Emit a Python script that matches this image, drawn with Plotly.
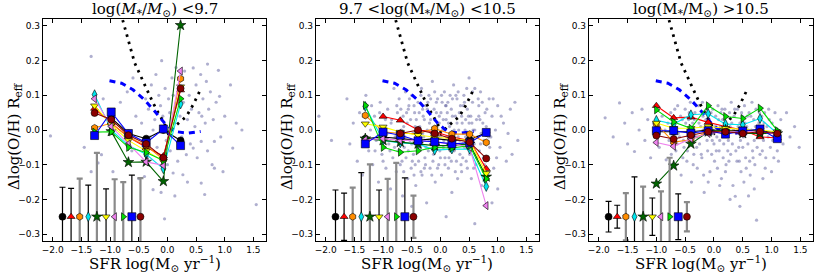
import plotly.graph_objects as go

# ---------------- data ----------------
SERIES_COLORS = ['#000000', '#ff0000', '#ff8c00', '#00e5ee', '#006400',
                 '#ffff00', '#ee82ee', '#00dd00', '#0000ff', '#8b0000']
SERIES_SYMBOLS = ['circle', 'triangle-up', 'hexagon', 'diamond-tall', 'star',
                  'triangle-down', 'triangle-left', 'triangle-right', 'square', 'circle']

TITLES = ['log(<i>M</i><sub>*</sub>/<i>M</i><sub>⊙</sub>) <9.7',
          '9.7 <log(M<sub>*</sub>/M<sub>⊙</sub>) <10.5',
          'log(M<sub>*</sub>/M<sub>⊙</sub>) >10.5']

# panel 1 : log M < 9.7
p1_x = [-1.27, -0.98, -0.68, -0.37, -0.07, 0.23]
p1_black = [None, 0.035, -0.01, -0.025, 0.0, -0.03]
p1_red = [0.062, 0.02, -0.02, -0.05, -0.075, 0.115]
p1_orange = [0.006, 0.02, -0.02, -0.045, -0.085, 0.148]
p1_cyan = [0.102, 0.0, -0.045, -0.07, -0.112, 0.075]
p1_dgreen = [None, -0.004, -0.093, -0.092, -0.148, 0.302]
p1_yellow = [0.07, 0.015, -0.03, -0.06, -0.09, 0.125]
p1_violet = [0.09, 0.01, -0.04, -0.092, -0.102, 0.17]
p1_green = [-0.006, -0.005, -0.05, -0.065, -0.088, 0.09]
p1_blue = [-0.016, 0.052, -0.01, -0.037, 0.003, -0.045]
p1_darkred = [0.049, 0.03, -0.015, -0.04, -0.08, 0.12]

# panel 2 : 9.7 < log M < 10.5
p2_x = [-1.31, -1.0, -0.70, -0.39, -0.10, 0.20, 0.51, 0.80]
p2_black = [-0.025, -0.02, -0.025, -0.03, -0.025, -0.03, -0.028, -0.008]
p2_red = [None, 0.039, 0.028, 0.0, -0.005, -0.02, -0.03, -0.112]
p2_orange = [0.042, -0.005, -0.01, -0.01, 0.004, -0.012, -0.012, -0.036]
p2_cyan = [0.068, -0.03, -0.037, -0.04, -0.058, -0.055, -0.055, -0.163]
p2_dgreen = [-0.025, -0.03, -0.035, -0.04, -0.045, -0.045, -0.04, -0.135]
p2_yellow = [0.018, 0.009, -0.006, -0.015, -0.02, -0.025, -0.03, -0.125]
p2_violet = [-0.028, -0.025, -0.03, -0.03, -0.035, -0.04, -0.05, -0.218]
p2_green = [0.071, -0.05, -0.064, -0.06, -0.05, -0.052, -0.045, -0.141]
p2_blue = [-0.04, -0.006, -0.015, -0.031, -0.034, -0.04, -0.037, -0.007]
p2_darkred = [None, None, -0.01, 0.0, -0.01, -0.025, -0.035, -0.082]

# panel 3 : log M > 10.5
p3_x = [-1.0, -0.7, -0.4, -0.1, 0.2, 0.5, 0.8, 1.1]
p3_black = [-0.005, -0.005, -0.005, 0.0, 0.0, 0.0, -0.002, -0.008]
p3_red = [0.07, 0.035, 0.037, 0.022, 0.01, 0.0, -0.02, -0.023]
p3_orange = [0.018, -0.035, -0.028, -0.005, -0.002, -0.005, -0.01, -0.01]
p3_cyan = [0.028, 0.017, 0.044, 0.047, 0.017, 0.015, 0.033, -0.01]
p3_dgreen = [-0.155, -0.103, -0.04, -0.005, 0.0, -0.01, -0.01, -0.01]
p3_yellow = [0.02, 0.005, 0.005, 0.01, 0.005, 0.003, 0.0, -0.005]
p3_violet = [-0.036, -0.047, -0.025, -0.01, -0.005, -0.005, -0.005, -0.012]
p3_green = [0.058, 0.023, 0.005, 0.07, 0.039, 0.033, 0.063, -0.002]
p3_blue = [-0.002, -0.002, -0.009, -0.002, -0.012, -0.003, 0.003, -0.025]
p3_darkred = [-0.016, -0.026, -0.015, -0.005, -0.005, -0.01, -0.005, -0.01]

# typical error bars (drawn at y = -0.25)
err_x = [-1.83, -1.68, -1.53, -1.38, -1.23, -1.07, -0.92, -0.77, -0.62, -0.47]
err_y = -0.25
err_p1 = [0.085, 0.082, 0.11, 0.091, 0.184, 0.08, 0.108, 0.10, 0.12, 0.111]
err_p2 = [0.077, 0.068, 0.084, 0.127, 0.151, 0.077, 0.109, 0.155, 0.112, 0.061]
err_p3 = [0.044, 0.033, 0.068, 0.115, 0.087, 0.054, 0.073, 0.17, 0.066, 0.042]
ERR_COLORS = ['black', 'black', 'gray', 'black', 'gray', 'black', 'gray', 'gray', 'black', 'gray']

# model curves
dot_x = [-0.78, -0.72, -0.66, -0.62, -0.57, -0.51, -0.46, -0.40, -0.34, -0.25, -0.16,
         -0.05, 0.01, 0.16, 0.33, 0.45, 0.59]
dot_y = [0.317, 0.279, 0.246, 0.222, 0.193, 0.171, 0.153, 0.131, 0.111, 0.078, 0.05,
         0.018, -0.009, 0.015, 0.039, 0.073, 0.121]
dash_x = [-1.01, -0.8, -0.6, -0.4, -0.22, -0.05, 0.12, 0.35, 0.58]
dash_y = [0.142, 0.135, 0.116, 0.087, 0.054, 0.02, -0.004, -0.009, -0.004]

# individual galaxies
scatter1 = [
    (-2.04, -0.017), (-1.33, 0.212), (-1.21, -0.095), (-1.15, -0.071), (-1.33, -0.12), (-1.45, -0.05),
    (-1.12, 0.09), (-0.95, -0.12), (-0.82, 0.08), (-0.7, 0.11), (-0.62, -0.06), (-0.55, 0.04),
    (-0.5, -0.14), (-0.45, 0.02), (-0.4, -0.134), (-0.38, 0.09), (-0.33, 0.06), (-0.3, -0.02),
    (-0.28, 0.13), (-0.25, -0.172), (-0.22, 0.03), (-0.2, 0.16), (-0.18, -0.05), (-0.15, 0.1),
    (-0.12, 0.07), (-0.11, -0.18), (-0.08, 0.04), (-0.05, -0.256), (-0.04, 0.12), (-0.02, -0.03),
    (0.02, 0.09), (0.04, 0.05), (0.05, -0.06), (0.08, 0.15), (0.1, -0.124), (0.12, 0.02),
    (0.13, -0.19), (0.15, 0.07), (0.18, -0.09), (0.2, 0.11), (0.22, 0.04), (0.25, -0.02),
    (0.27, -0.129), (0.28, 0.08), (0.3, 0.17), (0.33, -0.071), (0.35, 0.03), (0.38, 0.1),
    (0.4, -0.04), (0.42, 0.06), (0.45, 0.179), (0.45, -0.052), (0.48, 0.01), (0.5, 0.13),
    (0.52, -0.08), (0.55, 0.05), (0.58, 0.16), (0.59, -0.033), (0.59, -0.153), (0.62, 0.09),
    (0.65, -0.186), (0.66, 0.02), (0.68, 0.14), (0.7, -0.06), (0.72, 0.06), (0.75, 0.11),
    (0.78, -0.1), (0.8, 0.03), (0.82, -0.033), (0.82, -0.11), (0.85, 0.08), (0.89, 0.172),
    (0.91, 0.097), (0.93, -0.02), (0.97, -0.12), (1.0, 0.04), (1.1, 0.13), (1.14, -0.052),
    (1.2, 0.02), (1.3, 0.0), (1.55, -0.215), (0.35, -0.15), (0.0, -0.1), (-0.35, -0.08),
    (0.6, 0.04), (0.15, 0.18), (-0.1, 0.2), (0.7, 0.19), (-0.6, 0.15), (0.1, 0.1), (-0.25, 0.0),
]
scatter2 = [
    (-2.12, 0.04), (-1.63, 0.09), (-1.9, -0.03), (0.6, -0.27), (0.1, -0.25), (0.9, -0.21),
    (-0.5, -0.22), (1.0, -0.17),
    (-1.58, -0.04), (-1.52, 0.02), (-1.45, -0.09), (-1.41, 0.05), (-1.36, -0.13), (-1.3, 0.1),
    (-1.25, -0.06), (-1.22, 0.0), (-1.18, -0.1), (-1.15, 0.04), (-1.12, -0.03), (-1.08, -0.15),
    (-1.05, 0.08), (-1.02, -0.07), (-0.98, 0.01), (-0.95, -0.11), (-0.92, 0.06), (-0.9, -0.04),
    (-0.87, -0.17), (-0.85, 0.03), (-0.83, -0.08), (-0.81, 0.12), (-0.79, -0.02), (-0.77, -0.12),
    (-0.75, 0.05), (-0.74, -0.06), (-0.72, 0.09), (-0.7, -0.1), (-0.68, 0.0), (-0.66, -0.19),
    (-0.65, 0.04), (-0.63, -0.05), (-0.61, 0.11), (-0.6, -0.08), (-0.58, 0.02), (-0.57, -0.14),
    (-0.55, 0.07), (-0.53, -0.03), (-0.51, -0.11), (-0.5, 0.1), (-0.48, -0.01), (-0.47, -0.07),
    (-0.45, 0.05), (-0.43, -0.16), (-0.42, 0.03), (-0.41, -0.04), (-0.39, 0.08), (-0.38, -0.09),
    (-0.36, 0.01), (-0.35, -0.05), (-0.33, 0.12), (-0.32, -0.13), (-0.3, 0.04), (-0.29, -0.02),
    (-0.27, -0.08), (-0.26, 0.07), (-0.24, -0.21), (-0.23, 0.0), (-0.21, -0.06), (-0.2, 0.1),
    (-0.18, -0.11), (-0.17, 0.03), (-0.15, -0.03), (-0.14, 0.14), (-0.12, -0.07), (-0.11, 0.06),
    (-0.09, -0.15), (-0.08, 0.01), (-0.06, -0.04), (-0.05, 0.09), (-0.03, -0.1), (-0.02, 0.02),
    (-0.01, -0.06), (0.01, 0.05), (0.02, -0.13), (0.04, 0.0), (0.05, -0.05), (0.07, 0.11),
    (0.08, -0.08), (0.1, 0.03), (0.11, -0.02), (0.13, 0.08), (0.14, -0.11), (0.16, 0.01),
    (0.17, -0.06), (0.19, 0.06), (0.2, -0.18), (0.22, -0.01), (0.23, 0.13), (0.25, -0.04),
    (0.26, 0.04), (0.28, -0.09), (0.29, 0.09), (0.31, -0.02), (0.32, 0.0), (0.34, -0.07),
    (0.35, 0.07), (0.37, -0.12), (0.38, 0.02), (0.39, -0.04), (0.41, 0.1), (0.42, -0.05),
    (0.44, 0.03), (0.45, -0.09), (0.47, 0.06), (0.48, -0.01), (0.5, 0.15), (0.51, -0.07),
    (0.53, 0.04), (0.54, -0.14), (0.56, 0.08), (0.57, 0.0), (0.59, -0.04), (0.6, 0.12),
    (0.62, -0.1), (0.63, 0.03), (0.65, -0.02), (0.67, 0.07), (0.68, -0.06), (0.7, 0.11),
    (0.72, -0.16), (0.74, 0.02), (0.76, -0.03), (0.78, 0.05), (0.82, -0.08), (0.85, 0.09),
    (0.88, -0.02), (0.9, 0.04), (0.93, -0.11), (0.96, 0.0), (1.0, 0.07), (1.04, -0.05),
    (1.1, 0.02), (1.15, -0.09), (1.22, 0.06), (1.3, 0.08), (1.35, -0.03),
    (-0.62, -0.02), (-0.56, 0.06), (-0.49, -0.09), (-0.44, 0.01), (-0.37, -0.03), (-0.31, 0.06),
    (-0.25, -0.05), (-0.19, 0.02), (-0.13, -0.09), (-0.07, 0.05), (-0.04, -0.02), (0.03, 0.08),
    (0.06, -0.03), (0.12, 0.05), (0.15, -0.08), (0.18, 0.02), (0.24, -0.06), (0.27, 0.1),
    (0.33, 0.05), (0.36, -0.1), (0.43, 0.0), (0.46, 0.12), (0.52, -0.03), (0.55, 0.02),
    (0.61, -0.07), (0.66, 0.09), (0.71, -0.01), (-0.71, 0.03), (-0.64, -0.12), (-0.52, 0.03),
    (-0.46, -0.13), (-0.34, 0.1), (-0.28, -0.11), (-0.22, 0.08), (-0.16, -0.01), (-0.1, 0.11),
    (0.0, -0.08), (0.09, 0.07), (0.21, 0.09), (0.3, -0.14), (0.4, 0.07), (0.49, 0.04),
    (0.58, -0.11), (0.69, 0.03), (0.75, -0.08), (-0.88, -0.06), (-0.96, 0.03), (-1.1, -0.02),
    (0.8, 0.01), (0.86, -0.05),
    (-0.86, 0.02), (-0.8, -0.05), (-0.76, 0.07), (-0.73, -0.03), (-0.69, 0.06), (-0.67, -0.09),
    (-0.64, 0.01), (-0.59, 0.05), (-0.56, -0.06), (-0.54, 0.09), (-0.5, -0.04), (-0.46, 0.07),
    (-0.44, -0.1), (-0.4, 0.0), (-0.37, 0.05), (-0.34, -0.12), (-0.31, -0.01), (-0.28, 0.03),
    (-0.26, -0.1), (-0.23, 0.06), (-0.2, -0.03), (-0.17, 0.09), (-0.15, -0.13), (-0.13, 0.0),
    (-0.1, -0.05), (-0.07, 0.08), (-0.05, -0.11), (-0.02, 0.04), (0.0, -0.02), (0.02, 0.1),
    (0.05, 0.03), (0.08, -0.1), (0.1, 0.07), (0.12, -0.04), (0.14, 0.02), (0.17, 0.1),
    (0.19, -0.09), (0.21, 0.04), (0.24, 0.0), (0.26, -0.12), (0.29, 0.02), (0.31, 0.11),
    (0.34, -0.03), (0.37, 0.04), (0.39, -0.08), (0.42, 0.08), (0.44, -0.02), (0.47, -0.11),
    (0.5, 0.02), (0.53, -0.05), (0.56, 0.11), (0.6, 0.0), (0.63, -0.08), (0.67, 0.04),
    (0.7, -0.04), (0.73, 0.08), (0.77, -0.1), (0.81, 0.06), (0.84, -0.02), (0.92, 0.09),
    (-1.0, -0.09), (-1.06, 0.05), (-1.14, -0.06), (-1.2, 0.07), (-1.3, -0.03), (-0.93, -0.01),
    (0.98, -0.08), (1.06, 0.04), (1.18, -0.01), (1.25, -0.07),
]
scatter3 = [
    (-1.89, 0.035), (-1.64, 0.078), (-1.75, -0.02), (-1.55, 0.02), (-1.5, -0.04), (-1.42, 0.05),
    (-1.38, -0.062), (-1.3, 0.0), (-1.25, 0.06), (-1.2, -0.03), (-1.15, 0.03), (-1.1, -0.08),
    (-1.05, 0.02), (-0.83, -0.086), (-0.95, -0.05), (-0.9, 0.04), (-0.85, 0.0),
    (-0.78, -0.03), (-0.75, 0.05), (-0.72, -0.1), (-0.69, 0.01), (-0.66, -0.06), (-0.63, 0.07),
    (-0.6, -0.02), (-0.57, -0.13), (-0.55, 0.03), (-0.52, -0.05), (-0.5, 0.06), (-0.47, -0.09),
    (-0.45, 0.0), (-0.42, -0.04), (-0.41, 0.08), (-0.39, -0.15), (-0.37, 0.02), (-0.35, -0.07),
    (-0.33, 0.05), (-0.31, -0.02), (-0.29, -0.11), (-0.27, 0.07), (-0.25, -0.04), (-0.23, 0.01),
    (-0.21, -0.08), (-0.19, 0.04), (-0.17, -0.18), (-0.15, -0.01), (-0.13, 0.06), (-0.11, -0.06),
    (-0.09, 0.02), (-0.07, -0.12), (-0.05, 0.05), (-0.03, -0.03), (-0.01, 0.0), (0.01, -0.09),
    (0.03, 0.04), (0.05, -0.02), (0.07, 0.07), (0.09, -0.06), (0.11, 0.01), (0.13, -0.14),
    (0.15, 0.03), (0.17, -0.04), (0.19, 0.06), (0.21, -0.1), (0.23, 0.0), (0.25, -0.03),
    (0.27, 0.05), (0.29, -0.07), (0.31, 0.02), (0.33, -0.16), (0.35, 0.04), (0.37, -0.191),
    (0.39, -0.01), (0.41, 0.06), (0.43, -0.05), (0.45, 0.02), (0.47, -0.12), (0.49, 0.04),
    (0.51, -0.02), (0.53, 0.07), (0.55, -0.08), (0.57, 0.01), (0.59, -0.04), (0.61, 0.05),
    (0.63, -0.13), (0.65, 0.0), (0.67, -0.06), (0.69, 0.03), (0.71, -0.1), (0.73, 0.06),
    (0.74, -0.26), (0.76, -0.02), (0.78, 0.02), (0.8, -0.07), (0.83, 0.04), (0.86, -0.03),
    (0.89, -0.11), (0.92, 0.01), (0.95, 0.06), (0.98, -0.05), (1.01, 0.02), (1.04, -0.08),
    (1.07, 0.0), (1.12, -0.09), (1.16, 0.03), (1.2, -0.04), (1.26, 0.05), (1.32, -0.02),
    (1.4, 0.01), (1.48, -0.05),
    (-0.62, -0.01), (-0.44, 0.03), (-0.28, -0.02), (-0.14, 0.03), (0.0, -0.04), (0.12, 0.05),
    (0.24, -0.06), (0.34, 0.0), (0.46, -0.03), (0.58, 0.04), (0.7, -0.03), (0.82, 0.0),
    (0.94, -0.02), (-0.54, -0.08), (-0.36, -0.1), (-0.18, -0.13), (0.06, -0.11), (0.2, -0.12),
    (0.4, -0.09), (0.62, -0.09), (0.88, 0.05), (1.0, -0.12), (-0.7, 0.03), (-0.2, 0.08),
    (0.3, 0.08), (0.66, 0.08),
    (-0.58, 0.04), (-0.53, -0.03), (-0.49, 0.02), (-0.46, -0.06), (-0.43, 0.05), (-0.38, -0.02),
    (-0.34, 0.03), (-0.3, -0.05), (-0.26, 0.02), (-0.22, -0.07), (-0.19, 0.0), (-0.16, 0.05),
    (-0.12, -0.03), (-0.08, 0.03), (-0.04, -0.07), (-0.02, 0.06), (0.02, 0.01), (0.04, -0.06),
    (0.08, 0.03), (0.1, -0.03), (0.14, 0.06), (0.16, -0.08), (0.18, 0.01), (0.22, 0.04),
    (0.26, -0.09), (0.28, 0.01), (0.32, -0.04), (0.36, 0.06), (0.38, -0.06), (0.42, 0.01),
    (0.44, -0.09), (0.48, 0.05), (0.5, -0.05), (0.54, 0.02), (0.56, -0.11), (0.6, 0.0),
    (0.64, 0.04), (0.68, -0.08), (0.72, 0.01), (0.75, -0.05), (0.79, 0.05), (0.84, -0.06),
    (0.87, 0.02), (0.9, -0.08), (0.96, 0.03), (1.02, -0.03), (1.06, 0.05), (1.1, -0.06),
    (-0.8, 0.02), (-0.74, -0.07), (-0.68, 0.06), (-0.64, -0.04), (0.1, -0.16), (0.28, -0.2),
    (0.52, -0.15), (0.7, -0.17), (0.45, -0.22), (-0.1, -0.15), (0.85, -0.14), (0.6, -0.19),
]

X_RANGE = [-2.17, 1.72]
Y_RANGE = [-0.32, 0.32]

# ---------------- figure ----------------
W, H = 830, 277
fig = go.Figure()

panels = [
    (p1_x, [p1_black, p1_red, p1_orange, p1_cyan, p1_dgreen, p1_yellow, p1_violet, p1_green, p1_blue, p1_darkred], err_p1, scatter1),
    (p2_x, [p2_black, p2_red, p2_orange, p2_cyan, p2_dgreen, p2_yellow, p2_violet, p2_green, p2_blue, p2_darkred], err_p2, scatter2),
    (p3_x, [p3_black, p3_red, p3_orange, p3_cyan, p3_dgreen, p3_yellow, p3_violet, p3_green, p3_blue, p3_darkred], err_p3, scatter3),
]
x_px = [(43, 266), (316, 539), (589, 813)]
y_px = (19, 241)

def marker(i, size=7):
    return dict(symbol=SERIES_SYMBOLS[i], color=SERIES_COLORS[i],
                size=size + (1 if SERIES_SYMBOLS[i] in ('square', 'star') else 0),
                line=dict(color='black', width=0.6))

for k, (xs, series, errs, pts) in enumerate(panels):
    xa = 'x' if k == 0 else f'x{k+1}'
    ya = 'y' if k == 0 else f'y{k+1}'
    fig.add_trace(go.Scatter(x=[p[0] for p in pts], y=[p[1] for p in pts], mode='markers',
                             marker=dict(color='rgba(95,95,160,0.5)', size=3.2),
                             xaxis=xa, yaxis=ya, showlegend=False, hoverinfo='skip'))
    fig.add_trace(go.Scatter(x=dot_x, y=dot_y, mode='lines',
                             line=dict(color='black', width=2.8, dash='2.5px,5px'),
                             xaxis=xa, yaxis=ya, showlegend=False))
    fig.add_trace(go.Scatter(x=dash_x, y=dash_y, mode='lines',
                             line=dict(color='#0000ff', width=3, dash='6px,5px'),
                             xaxis=xa, yaxis=ya, showlegend=False))
    for i, ys in enumerate(series):
        fig.add_trace(go.Scatter(x=xs, y=ys, mode='lines+markers',
                                 line=dict(color=SERIES_COLORS[i], width=1.1),
                                 marker=marker(i), xaxis=xa, yaxis=ya, showlegend=False))
    for i in range(10):
        gray = ERR_COLORS[i] == 'gray'
        fig.add_trace(go.Scatter(x=[err_x[i]], y=[err_y], mode='markers',
                                 error_y=dict(type='data', array=[errs[i]], symmetric=True,
                                              color='#8a8a8a' if gray else 'black',
                                              thickness=2.2 if gray else 1.2, width=3),
                                 marker=marker(i, 7), xaxis=xa, yaxis=ya, showlegend=False))

axis_common = dict(showline=True, mirror='allticks', linecolor='black', linewidth=1.2,
                   ticks='inside', ticklen=4, tickcolor='black', showgrid=False, zeroline=False,
                   automargin=False,
                   tickfont=dict(family='DejaVu Sans', size=9, color='black'))

layout = dict(width=W, height=H, margin=dict(l=0, r=0, t=0, b=0, autoexpand=False),
              paper_bgcolor='white', plot_bgcolor='white', showlegend=False)
for k in range(3):
    xkey = 'xaxis' if k == 0 else f'xaxis{k+1}'
    ykey = 'yaxis' if k == 0 else f'yaxis{k+1}'
    x0, x1 = x_px[k]
    layout[xkey] = dict(axis_common, domain=[x0 / W, x1 / W], range=X_RANGE,
                        tickvals=[-2.0, -1.5, -1.0, -0.5, 0.0, 0.5, 1.0, 1.5], tickformat='.1f',
                        anchor='y' if k == 0 else f'y{k+1}')
    layout[ykey] = dict(axis_common, domain=[1 - y_px[1] / H, 1 - y_px[0] / H], range=Y_RANGE,
                        tickvals=[-0.3, -0.2, -0.1, 0.0, 0.1, 0.2, 0.3], tickformat='.1f',
                        anchor='x' if k == 0 else f'x{k+1}')
fig.update_layout(**layout)

serif = 'DejaVu Serif'
for k in range(3):
    x0, x1 = x_px[k]
    cx = (x0 + x1) / 2 / W
    fig.add_annotation(x=cx, y=1 - 10 / H, xref='paper', yref='paper', text=TITLES[k],
                       showarrow=False, font=dict(family=serif, size=15, color='black'),
                       xanchor='center', yanchor='middle')
    fig.add_annotation(x=cx, y=1 - 263 / H, xref='paper', yref='paper',
                       text='SFR log(M<sub>⊙</sub> yr<sup>−1</sup>)',
                       showarrow=False, font=dict(family=serif, size=15, color='black'),
                       xanchor='center', yanchor='middle')
    fig.add_annotation(x=(x0 - 29) / W, y=1 - 136 / H, xref='paper', yref='paper',
                       text='Δlog(O/H) R<sub>eff</sub>', textangle=-90,
                       showarrow=False, font=dict(family=serif, size=15, color='black'),
                       xanchor='center', yanchor='middle')

fig.write_html('out.html', config={'displayModeBar': False},
               post_script="document.body.style.margin='0';document.body.style.padding='0';")
